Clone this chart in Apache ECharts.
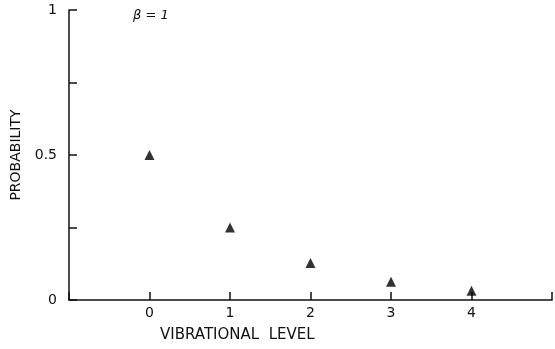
<!DOCTYPE html>
<html>
<head>
<meta charset="utf-8">
<script src="https://cdn.jsdelivr.net/npm/echarts@6/dist/echarts.min.js"></script>
<style>
  html, body { margin: 0; padding: 0; background: #fff; }
  #chart { width: 555px; height: 349px; }
</style>
</head>
<body>
<div id="chart"></div>
<script>
// vibrational level vs probability, beta = 1
const levels = [0, 1, 2, 3, 4];
const probability = [0.5, 0.25, 0.128, 0.063, 0.032];
const yLabels = {0: '0', 0.5: '0.5', 1: '1'};

const points = levels.map((lv, i) => [lv, probability[i]]);

const font = 'DejaVu Sans';
const chart = echarts.init(document.getElementById('chart'));

chart.setOption({
    animation: false,
    grid: {left: 69, right: 2, top: 10, bottom: 49},
    xAxis: {
        type: 'value',
        min: -1,
        max: 5,
        interval: 1,
        splitLine: {show: false},
        axisLine: {onZero: false, lineStyle: {color: '#111', width: 1.5}},
        axisTick: {inside: true, length: 8, lineStyle: {color: '#111', width: 1.5}},
        axisLabel: {
            color: '#111', fontSize: 14, fontFamily: font, margin: 6,
            formatter: v => (v >= 0 && v <= 4) ? String(v) : ''
        }
    },
    yAxis: {
        type: 'value',
        min: 0,
        max: 1,
        interval: 0.25,
        splitLine: {show: false},
        axisLine: {onZero: false, lineStyle: {color: '#111', width: 1.5}},
        axisTick: {inside: true, length: 8, lineStyle: {color: '#111', width: 1.5}},
        axisLabel: {
            color: '#111', fontSize: 14, fontFamily: font, margin: 12,
            formatter: v => yLabels[v] !== undefined ? yLabels[v] : ''
        },
        name: 'PROBABILITY',
        nameLocation: 'middle',
        nameGap: 40,
        nameTextStyle: {color: '#111', fontSize: 14, fontFamily: font}
    },
    graphic: [
        {
            type: 'text', left: 160, top: 328,
            style: {text: 'VIBRATIONAL  LEVEL', fill: '#111', fontSize: 15, fontFamily: font}
        },
        {
            type: 'text', left: 133, top: 9,
            style: {text: 'β = 1', fill: '#111', fontSize: 13, fontFamily: font, fontStyle: 'italic'}
        }
    ],
    series: [{
        type: 'scatter',
        data: points,
        symbol: 'triangle',
        symbolSize: 10,
        itemStyle: {color: '#000'}
    }]
});
</script>
</body>
</html>
